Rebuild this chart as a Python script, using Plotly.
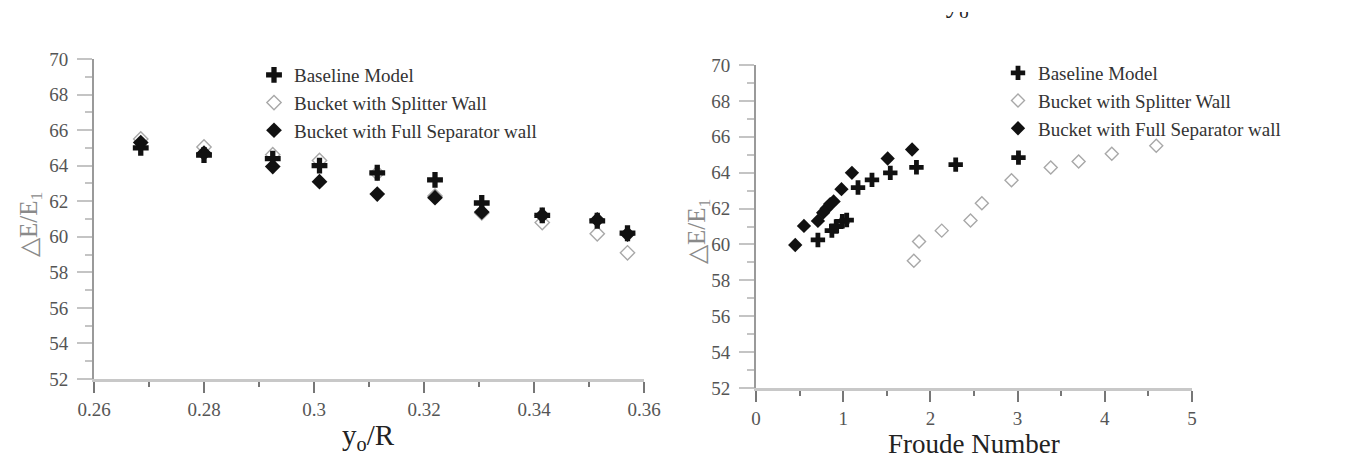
import plotly.graph_objects as go

# ---- Left panel data: energy dissipation vs y0/R ----
yR = [0.2685, 0.28, 0.2925, 0.301, 0.3115, 0.322, 0.3305, 0.3415, 0.3515, 0.357]
left_baseline = [65.0, 64.6, 64.4, 64.0, 63.6, 63.2, 61.9, 61.2, 60.9, 60.2]
left_splitter = [65.5, 65.05, 64.62, 64.29, 63.58, 62.29, 61.34, 60.8, 60.17, 59.1]
left_separator = [65.3, 64.7, 63.95, 63.1, 62.4, 62.2, 61.4, 61.2, 60.95, 60.15]

# ---- Right panel data: energy dissipation vs Froude number ----
fr_baseline = [0.71, 0.87, 0.92, 0.99, 1.04, 1.17, 1.33, 1.54, 1.84, 2.29, 3.01]
e_baseline = [60.25, 60.77, 61.0, 61.29, 61.36, 63.17, 63.6, 63.99, 64.3, 64.45, 64.84]
fr_splitter = [1.81, 1.87, 2.13, 2.46, 2.59, 2.93, 3.38, 3.70, 4.08, 4.59]
e_splitter = [59.09, 60.17, 60.77, 61.34, 62.29, 63.58, 64.29, 64.62, 65.05, 65.5]
fr_separator = [0.45, 0.55, 0.71, 0.77, 0.81, 0.85, 0.89, 0.98, 1.10, 1.51, 1.79]
e_separator = [59.97, 61.03, 61.31, 61.77, 62.01, 62.25, 62.40, 63.08, 63.99, 64.79, 65.29]

names = ["Baseline Model", "Bucket with Splitter Wall", "Bucket with Full Separator wall"]
y_ticks = [52, 54, 56, 58, 60, 62, 64, 66, 68, 70]
y_title = "△E/E<sub>1</sub>"
x_title_left = "y<sub>o</sub>/R"
x_title_right = "Froude Number"
cropped_title = "y<sub>o</sub>/R"   # title of a panel above, cut off by the crop

FONT = "Liberation Serif, Times New Roman, serif"
W, H = 1351, 459

fig = go.Figure()

def add_set(xs, ys, xa, ya, leg, size_scale):
    # splitter (grey open diamonds) first so black marks sit on top
    fig.add_trace(go.Scatter(x=xs[1], y=ys[1], mode="markers", name=names[1],
                             xaxis=xa, yaxis=ya, legend=leg, legendrank=2,
                             marker=dict(symbol="diamond-open", size=10 * size_scale,
                                         color="#a8a8a8", line=dict(width=1.4, color="#a8a8a8"))))
    fig.add_trace(go.Scatter(x=xs[2], y=ys[2], mode="markers", name=names[2],
                             xaxis=xa, yaxis=ya, legend=leg, legendrank=3,
                             marker=dict(symbol="diamond", size=11 * size_scale, color="#111111")))
    fig.add_trace(go.Scatter(x=xs[0], y=ys[0], mode="markers", name=names[0],
                             xaxis=xa, yaxis=ya, legend=leg, legendrank=1,
                             marker=dict(symbol="cross", size=12 * size_scale, color="#111111")))

add_set([yR, yR, yR], [left_baseline, left_splitter, left_separator], "x", "y", "legend", 1.1)
add_set([fr_baseline, fr_splitter, fr_separator], [e_baseline, e_splitter, e_separator], "x2", "y2", "legend2", 1.0)

# cut-off title fragment at the top, clipped to a thin strip
fig.add_trace(go.Scatter(x=[0.5], y=[1.6], mode="text", text=[cropped_title],
                         textposition="middle center", cliponaxis=True, showlegend=False,
                         hoverinfo="skip", xaxis="x3", yaxis="y3",
                         textfont=dict(family=FONT, size=27, color="#222222")))

tickfont = dict(family=FONT, size=19, color="#555555")

def yax(domain, anchor):
    return dict(domain=domain, anchor=anchor, range=[52, 70], tickvals=y_ticks,
                showgrid=False, zeroline=False, showline=True, linecolor="#9a9a9a", linewidth=2,
                ticks="outside", ticklen=15, tickwidth=2, tickcolor="#c4c4c4",
                minor=dict(dtick=1, ticks="outside", ticklen=7, tickwidth=2, tickcolor="#c4c4c4"),
                tickfont=tickfont, ticklabelstandoff=5, automargin=False)

def xax(domain, anchor, rng, dtick, minor_dtick, fmt):
    return dict(domain=domain, anchor=anchor, range=rng, dtick=dtick, tick0=rng[0],
                showgrid=False, zeroline=False, showline=True, linecolor="#c8c8c8", linewidth=3,
                ticks="outside", ticklen=11, tickwidth=1.5, tickcolor="#777777",
                minor=dict(dtick=minor_dtick, ticks="outside", ticklen=5, tickwidth=1.5, tickcolor="#777777"),
                tickformat=fmt, tickfont=tickfont, automargin=False)

hidden = dict(visible=False, showgrid=False, zeroline=False, range=[0, 1], fixedrange=True)

fig.update_layout(
    width=W, height=H, template="none",
    paper_bgcolor="white", plot_bgcolor="rgba(0,0,0,0)",
    margin=dict(l=0, r=0, t=0, b=0),
    showlegend=True,
    xaxis=xax([94 / W, 644 / W], "y", [0.26, 0.36], 0.02, 0.01, "~g"),
    yaxis=yax([(H - 379) / H, (H - 59) / H], "x"),
    xaxis2=xax([756 / W, 1192 / W], "y2", [0, 5], 1, 0.5, "d"),
    yaxis2=yax([(H - 388) / H, (H - 65) / H], "x2"),
    xaxis3=dict(hidden, domain=[925 / W, 1015 / W], anchor="y3"),
    yaxis3=dict(hidden, domain=[(H - 23) / H, (H - 12) / H], anchor="x3"),
    legend=dict(x=254 / W, y=(H - 56) / H, xanchor="left", yanchor="top",
                bgcolor="rgba(0,0,0,0)", font=dict(family=FONT, size=19, color="#333333"),
                itemwidth=30, tracegroupgap=0),
    legend2=dict(x=998 / W, y=(H - 54) / H, xanchor="left", yanchor="top",
                 bgcolor="rgba(0,0,0,0)", font=dict(family=FONT, size=19, color="#333333"),
                 itemwidth=30, tracegroupgap=0),
    annotations=[
        dict(text=y_title, x=30 / W, y=(H - 225) / H, xref="paper", yref="paper",
             xanchor="center", yanchor="middle",
             textangle=-90, showarrow=False, font=dict(family=FONT, size=25, color="#8a8a8a")),
        dict(text=y_title, x=698 / W, y=(H - 232) / H, xref="paper", yref="paper",
             xanchor="center", yanchor="middle",
             textangle=-90, showarrow=False, font=dict(family=FONT, size=25, color="#8a8a8a")),
        dict(text=x_title_left, x=368 / W, y=(H - 437) / H, xref="paper", yref="paper",
             xanchor="center", yanchor="middle",
             showarrow=False, font=dict(family=FONT, size=29, color="#222222")),
        dict(text=x_title_right, x=974 / W, y=(H - 444) / H, xref="paper", yref="paper",
             xanchor="center", yanchor="middle",
             showarrow=False, font=dict(family=FONT, size=27, color="#222222")),
    ],
)

fig.write_html("out.html", config={"displayModeBar": False},
               post_script="document.body.style.margin='0';document.body.style.overflow='hidden';")
